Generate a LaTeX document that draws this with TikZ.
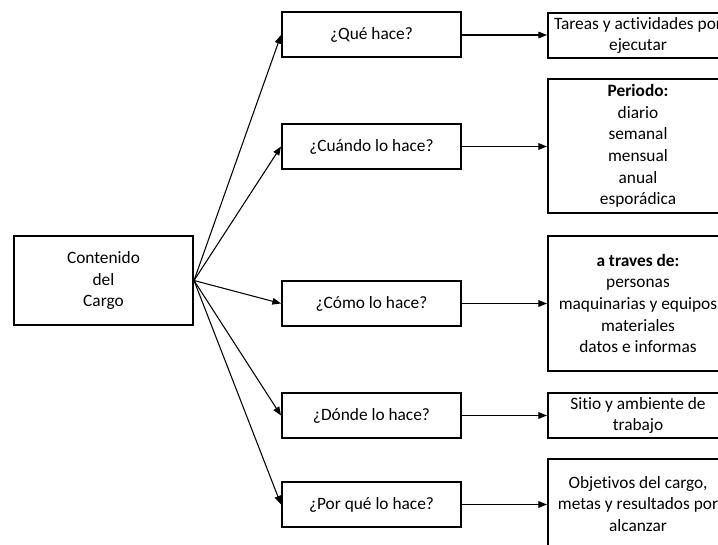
\documentclass[tikz,border=0pt]{standalone}
\usepackage{fontspec}
\setmainfont[Ligatures=NoCommon]{Carlito}
\usetikzlibrary{arrows.meta}
\begin{document}
\begin{tikzpicture}[x=0.75pt,y=-0.75pt,
  box/.style={draw=black,line width=1.5pt,fill=white,inner sep=0pt,
    align=center,font=\fontsize{13}{16.2}\selectfont},
  qbox/.style={box,minimum width=134.25pt,minimum height=33.75pt},
  rbox/.style={box,minimum width=135pt},
  link/.style={draw=black,line width=0.8pt,-{Triangle[length=6.5pt,width=5pt]}}
]
\useasboundingbox (0,0) rectangle (718,545);
\clip (0,0) rectangle (718,545);
\fill[white] (0,0) rectangle (718,545);

% central box
\node[box,minimum width=134.25pt,minimum height=66.75pt] (cont) at (103.5,280.5)
  {Contenido\\del\\Cargo};

% questions
\node[qbox] (q1) at (371.5,35)    {¿Qué hace?};
\node[qbox] (q2) at (371.5,146.5) {¿Cuándo lo hace?};
\node[qbox] (q3) at (371.5,303.5) {¿Cómo lo hace?};
\node[qbox] (q4) at (371.5,415.5) {¿Dónde lo hace?};
\node[qbox] (q5) at (371.5,504.5) {¿Por qué lo hace?};

% answers
\node[rbox,minimum height=33.75pt] (r1) at (638,35.5)
  {Tareas y actividades por\\ejecutar};
\node[rbox,minimum height=100.5pt] (r2) at (638,146)
  {\textbf{Periodo:}\\diario\\semanal\\mensual\\anual\\esporádica};
\node[rbox,minimum height=101.25pt] (r3) at (638,303.5)
  {\textbf{a traves de:}\\personas\\maquinarias y equipos\\materiales\\datos e informas};
\node[rbox,minimum height=33.75pt] (r4) at (638,415.5)
  {Sitio y ambiente de\\trabajo};
\node[rbox,minimum height=67.5pt] (r5) at (638,504)
  {Objetivos del cargo,\\metas y resultados por\\alcanzar};

% fan-out from the central box
\foreach \q in {q1,q2,q3,q4,q5}
  \draw[link] (cont.east) -- (\q.west);

% questions to answers
\foreach \q/\r in {q1/r1,q2/r2,q3/r3,q4/r4,q5/r5}
  \draw[link] (\q.east) -- (\q.east -| \r.west);
\end{tikzpicture}
\end{document}
